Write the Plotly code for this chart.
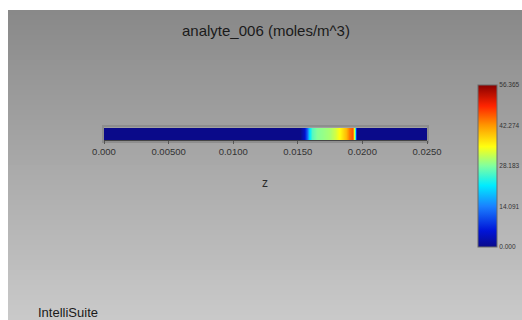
import plotly.graph_objects as go

# ---- data ----
z_pos = [0.0, 0.0050, 0.0100, 0.0150, 0.0152, 0.0155, 0.0157, 0.0159, 0.0161, 0.0165,
         0.0170, 0.0175, 0.0179, 0.0183, 0.0187, 0.0190, 0.0192, 0.0193, 0.0194,
         0.0195, 0.0196, 0.0200, 0.0250]
conc = [0.0, 0.0, 0.0, 0.0, 0.0, 4.0, 12.0, 20.0, 26.0, 28.5,
        29.5, 30.5, 32.5, 35.5, 40.0, 44.0, 46.0, 43.0, 24.0,
        8.0, 0.0, 0.0, 0.0]
cmin, cmax = 0.0, 56.365
cbar_ticks = [0.0, 14.091, 28.183, 42.274, 56.365]
cbar_text = ["0.000", "14.091", "28.183", "42.274", "56.365"]
x_ticks = [0.0, 0.005, 0.010, 0.015, 0.020, 0.025]
x_text = ["0.000", "0.00500", "0.0100", "0.0150", "0.0200", "0.0250"]
title = "analyte_006 (moles/m^3)"

W, H = 522, 320
colorscale = [
    [0.0, "#0a0a8a"], [0.10, "#0014d8"], [0.25, "#1a80ff"], [0.38, "#00ecff"],
    [0.50, "#80ffa0"], [0.62, "#ffff10"], [0.75, "#ff9800"], [0.87, "#ff2400"],
    [1.0, "#880000"],
]

fig = go.Figure()
fig.add_trace(go.Heatmap(
    x=z_pos, y=[0, 1], z=[conc, conc], zsmooth="best",
    zmin=cmin, zmax=cmax, colorscale=colorscale,
    colorbar=dict(
        x=478 / W, xanchor="left", xpad=0, ypad=0,
        y=(H - 166) / H, yanchor="middle",
        lenmode="pixels", len=162, thickness=19,
        outlinewidth=1, outlinecolor="#6a6a6a",
        tickmode="array", tickvals=cbar_ticks, ticktext=cbar_text,
        ticks="", tickfont=dict(size=6.5, color="#333333", family="Liberation Sans"),
    ),
    hoverinfo="skip",
))

# background gradient
shapes = []
n = 62
top, bottom = 10, H
for i in range(n):
    y0 = top + (bottom - top) * i / n
    y1 = top + (bottom - top) * (i + 1) / n
    v = int(137 + (202 - 137) * (i + 0.5) / n)
    shapes.append(dict(type="rect", xref="paper", yref="paper",
                       x0=8 / W, x1=1, y0=1 - y1 / H, y1=1 - y0 / H,
                       fillcolor=f"rgb({v},{v},{v})", line=dict(width=0), layer="below"))
# frame around the bar
shapes.append(dict(type="rect", xref="paper", yref="paper",
                   x0=103 / W, x1=428 / W, y0=1 - 142 / H, y1=1 - 126 / H,
                   line=dict(color="#8e8e8e", width=2), fillcolor="rgba(0,0,0,0)", layer="below"))

fig.update_layout(
    width=W, height=H, margin=dict(l=0, r=0, t=0, b=0, autoexpand=False),
    paper_bgcolor="white", plot_bgcolor="rgba(0,0,0,0)",
    shapes=shapes,
    xaxis=dict(domain=[104 / W, 427 / W], range=[0, 0.025], showgrid=False, zeroline=False,
               tickmode="array", tickvals=x_ticks, ticktext=x_text,
               ticks="outside", ticklen=3, tickcolor="#555555",
               showline=True, linecolor="#444444", linewidth=1, automargin=False,
               tickfont=dict(size=9.5, color="#333333", family="Liberation Sans")),
    yaxis=dict(domain=[1 - 140 / H, 1 - 128 / H], range=[0, 1], showgrid=False, zeroline=False,
               showticklabels=False, fixedrange=True, automargin=False),
    annotations=[
        dict(text=title, x=266 / W, y=1 - 30 / H, xref="paper", yref="paper",
             yanchor="middle", showarrow=False,
             font=dict(size=15, color="#1a1a1a", family="Liberation Sans")),
        dict(text="z", x=265 / W, y=1 - 183 / H, xref="paper", yref="paper",
             yanchor="middle", showarrow=False,
             font=dict(size=12, color="#2a2a2a", family="Liberation Sans")),
        dict(text="IntelliSuite", x=36 / W, y=1 - 312 / H, xref="paper", yref="paper",
             xanchor="left", yanchor="middle", showarrow=False,
             font=dict(size=13, color="#1a1a1a", family="Liberation Sans")),
    ],
)

fig.write_html("out.html")
